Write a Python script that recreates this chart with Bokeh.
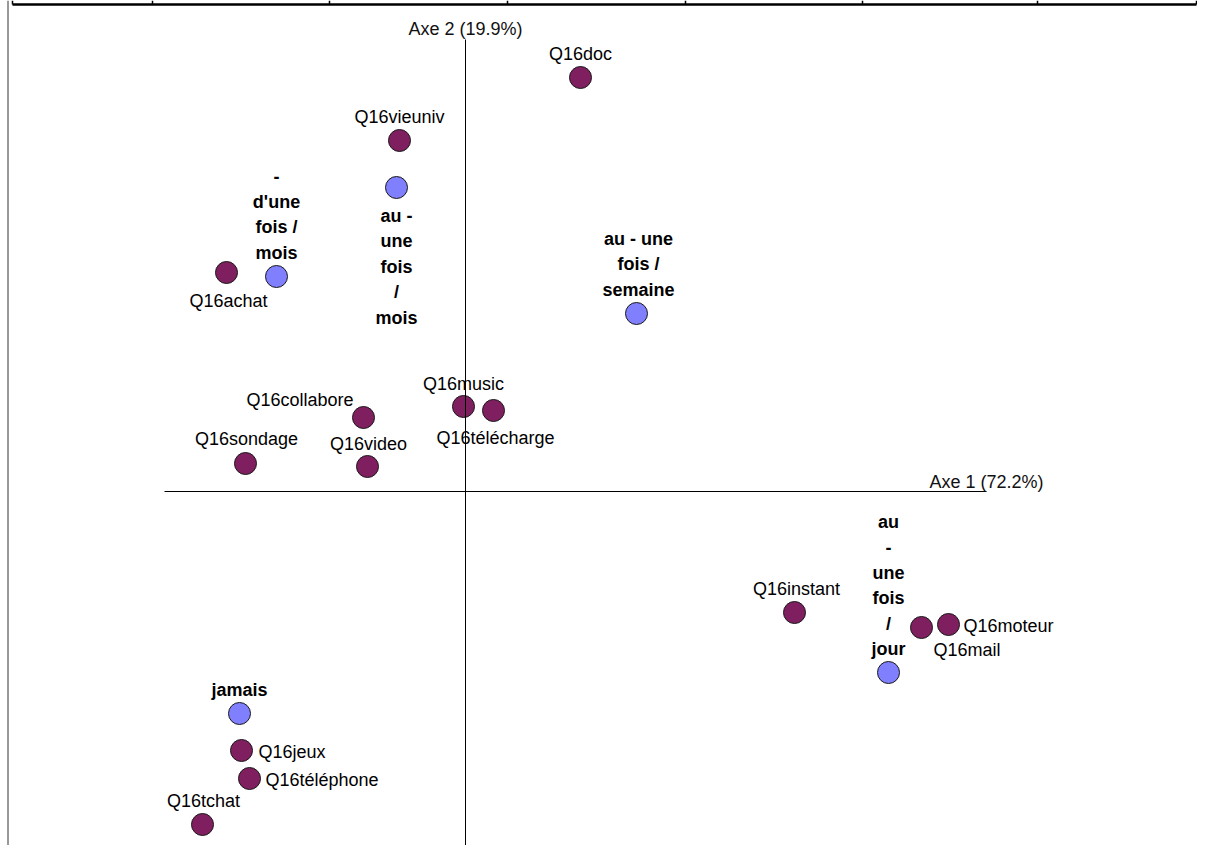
from bokeh.plotting import figure
from bokeh.models import Range1d, ColumnDataSource
from bokeh.embed import file_html
from bokeh.resources import INLINE
from bokeh.core.properties import value

# ---------------- data (correspondence analysis coordinates) ----------------
var_labels = ["Q16doc", "Q16vieuniv", "Q16achat", "Q16collabore", "Q16sondage",
              "Q16video", "Q16music", "Q16télécharge", "Q16instant", "Q16mail",
              "Q16moteur", "Q16jeux", "Q16téléphone", "Q16tchat"]
var_axis1 = [0.460, -0.264, -0.956, -0.408, -0.880, -0.392, -0.008, 0.112,
             1.316, 1.824, 1.932, -0.896, -0.864, -1.052]
var_axis2 = [1.656, 1.404, 0.876, 0.296, 0.112, 0.100, 0.340, 0.324,
             -0.484, -0.544, -0.532, -1.036, -1.148, -1.332]

freq_labels = ["-\nd'une\nfois /\nmois", "au -\nune\nfois\n/\nmois",
               "au - une\nfois /\nsemaine", "au\n-\nune\nfois\n/\njour", "jamais"]
freq_axis1 = [-0.756, -0.276, 0.684, 1.692, -0.904]
freq_axis2 = [0.860, 1.216, 0.712, -0.724, -0.888]

axis_titles = ["Axe 1 (72.2%)", "Axe 2 (19.9%)"]

# ---------------- layout / style ----------------
W, H = 1197, 845
PX = 250.0                 # pixels per unit
ORIGIN = (465, 491)        # frame pixel position of (0, 0)
FONT = "Liberation Sans"
PURPLE = "#7f1f5f"
BLUE = "#8080ff"

# label placement for variables: (align, dx, dy) in pixels
var_place = [("center", 0, -24), ("center", 0, -24), ("center", 2, 28),
             ("right", -10, -18), ("center", 1, -25), ("center", 1, -23),
             ("center", 0, -23), ("center", 2, 27), ("center", 2, -24),
             ("left", 12, 22), ("left", 15, 1), ("left", 17, 1),
             ("left", 16, 1), ("center", 1, -24)]
# label placement for modalities: (dx, dy of first line)
freq_place = [(0, -100.5), (0, 28), (2, -75), (0, -151), (0, -24)]
PITCH = 25.5

x0 = -ORIGIN[0] / PX
x1 = (W - ORIGIN[0]) / PX
y1 = ORIGIN[1] / PX
y0 = -(H - ORIGIN[1]) / PX

p = figure(width=W, height=H, output_backend="svg", toolbar_location=None,
           x_range=Range1d(x0, x1), y_range=Range1d(y0, y1),
           min_border=0, outline_line_color=None)
p.axis.visible = False
p.xgrid.visible = False
p.ygrid.visible = False
p.background_fill_color = "white"
p.border_fill_color = "white"


def fx(px):
    return x0 + px / PX


def fy(py):
    return y1 - py / PX


# decorative frame: left border and bottom edge of a table above the chart
p.segment(x0=[fx(7.5)], y0=[fy(0)], x1=[fx(7.5)], y1=[fy(H)],
          line_color="#333333", line_width=1)
seps = [12, 152, 329, 507, 685, 862, 1037, 1196]
p.segment(x0=[fx(s) for s in seps], y0=[fy(0)] * len(seps),
          x1=[fx(s) for s in seps], y1=[fy(4)] * len(seps),
          line_color="black", line_width=1.5)
p.segment(x0=[fx(12)], y0=[fy(4)], x1=[fx(1196)], y1=[fy(4)],
          line_color="black", line_width=2.5)

# points
p.scatter(var_axis1, var_axis2, size=22, fill_color=PURPLE,
          line_color="#1a1a1a", line_width=1)
p.scatter(freq_axis1, freq_axis2, size=22, fill_color=BLUE,
          line_color="#1a1a1a", line_width=1)

# variable labels
vsrc = ColumnDataSource(dict(
    x=var_axis1, y=var_axis2, t=var_labels,
    al=[a for a, _, _ in var_place],
    dx=[d for _, d, _ in var_place],
    dy=[d for _, _, d in var_place]))
p.text(x="x", y="y", text="t", source=vsrc, text_align="al",
       x_offset="dx", y_offset="dy", text_baseline="middle",
       text_font=value(FONT), text_font_size="18px", text_color="black")

# modality labels (bold, one glyph per line)
fx_, fy_, ft, fdx, fdy = [], [], [], [], []
for lab, xa, ya, (ddx, ddy) in zip(freq_labels, freq_axis1, freq_axis2, freq_place):
    for i, line in enumerate(lab.split("\n")):
        fx_.append(xa)
        fy_.append(ya)
        ft.append(line)
        fdx.append(ddx)
        fdy.append(ddy + i * PITCH)
fsrc = ColumnDataSource(dict(x=fx_, y=fy_, t=ft, dx=fdx, dy=fdy))
p.text(x="x", y="y", text="t", source=fsrc, text_align="center",
       x_offset="dx", y_offset="dy", text_baseline="middle",
       text_font=value(FONT), text_font_size="18px", text_font_style="bold",
       text_color="black")

# axes through the origin, extending a little beyond the data
allx = var_axis1 + freq_axis1
ally = var_axis2 + freq_axis2
pad = 0.152
hx0, hx1 = min(allx) - pad, max(allx) + pad
vy0, vy1 = min(ally) - pad, max(ally) + pad
p.segment(x0=[hx0, 0], y0=[0, vy0], x1=[hx1, 0], y1=[0, vy1],
          line_color="black", line_width=1)
p.text(x=[hx1, 0], y=[0, vy1], text=axis_titles, text_align="center",
       text_baseline="middle", x_offset=[0, 0], y_offset=[-10, -11],
       text_font=value(FONT), text_font_size="18px", text_color="#111111")

open("out.html", "w").write(file_html(p, INLINE))
